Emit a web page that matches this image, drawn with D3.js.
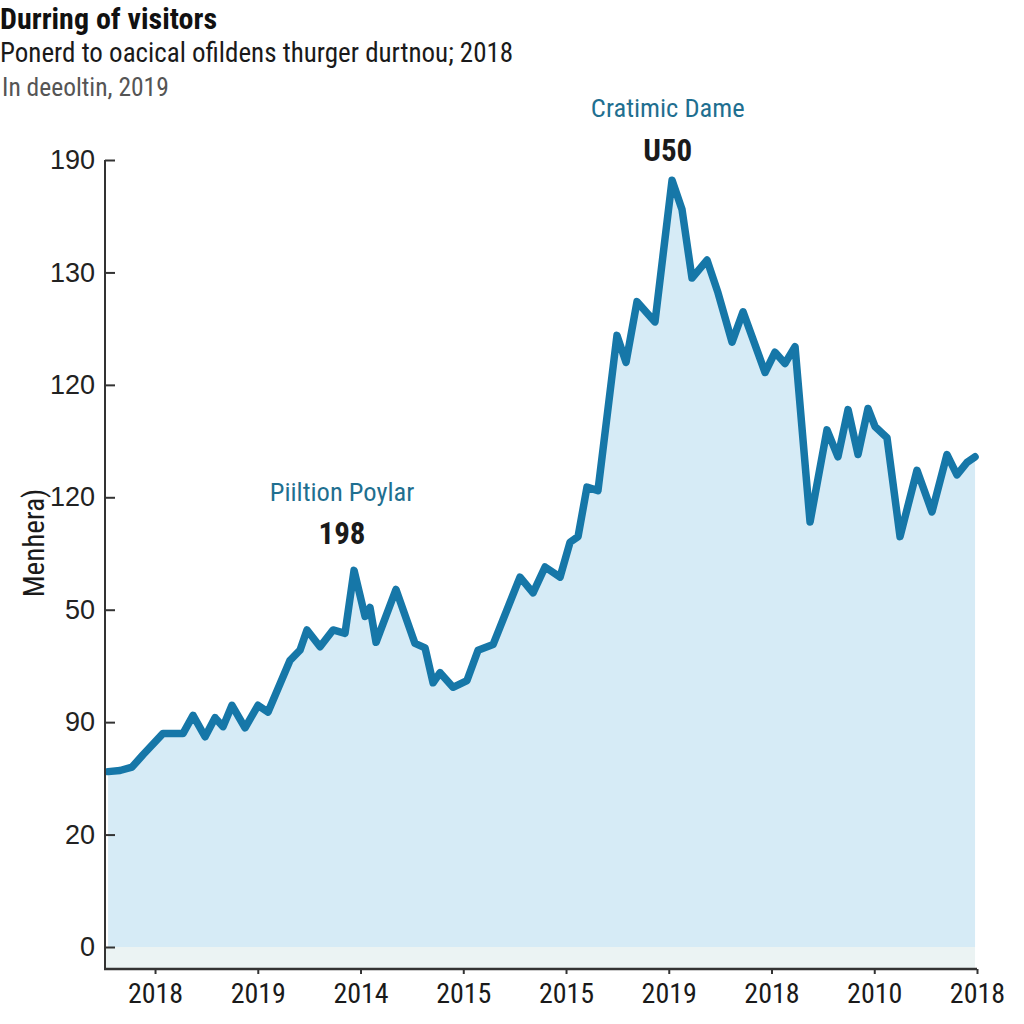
<!DOCTYPE html>
<html>
<head>
<meta charset="utf-8">
<script src="https://cdn.jsdelivr.net/npm/d3@7/dist/d3.min.js"></script>
<style>
  html, body { margin: 0; padding: 0; background: #ffffff; }
  svg { display: block; }
</style>
</head>
<body>
<svg id="chart" width="1024" height="1024"></svg>
<script>
// ---- data ----
const titleText = "Durring of visitors";
const subtitleText = "Ponerd to oacical ofildens thurger durtnou; 2018";
const noteText = "In deeoltin, 2019";
const yAxisTitle = "Menhera)";

const xTickLabels = ["2018", "2019", "2014", "2015", "2015", "2019", "2018", "2010", "2018"];
const xTickPositions = [0, 1, 2, 3, 4, 5, 6, 7, 8];

const yTickLabels = ["0", "20", "90", "50", "120", "120", "130", "190"];
const yTickValues = [0, 10, 20, 30, 40, 50, 60, 70];

// position of each point along the time axis (in tick units)
const xPos = [
  -0.457, -0.341, -0.224, -0.117, 0.078, 0.273, 0.370, 0.487, 0.584, 0.662,
  0.749, 0.876, 1.002, 1.100, 1.314, 1.411, 1.479, 1.606, 1.732, 1.849,
  1.937, 2.044, 2.092, 2.151, 2.345, 2.530, 2.628, 2.706, 2.774, 2.900,
  3.036, 3.144, 3.290, 3.552, 3.679, 3.796, 3.942, 4.039, 4.117, 4.204,
  4.311, 4.496, 4.584, 4.691, 4.866, 5.032, 5.129, 5.226, 5.372, 5.479,
  5.616, 5.723, 5.937, 6.034, 6.131, 6.229, 6.375, 6.540, 6.647, 6.745,
  6.842, 6.939, 7.007, 7.124, 7.251, 7.416, 7.562, 7.708, 7.805, 7.903,
  7.981
];
const values = [
  15.6, 15.7, 16.0, 17.1, 19.0, 19.0, 20.6, 18.7, 20.4, 19.6,
  21.5, 19.5, 21.5, 20.9, 25.5, 26.4, 28.2, 26.7, 28.2, 27.9,
  33.5, 29.4, 30.2, 27.1, 31.8, 27.0, 26.6, 23.5, 24.4, 23.1,
  23.7, 26.4, 26.9, 32.9, 31.5, 33.8, 32.9, 36.0, 36.5, 40.9,
  40.6, 54.4, 52.0, 57.4, 55.6, 68.2, 65.6, 59.5, 61.1, 58.2,
  53.8, 56.5, 51.1, 52.9, 51.9, 53.4, 37.8, 46.0, 43.6, 47.8,
  43.8, 47.9, 46.3, 45.3, 36.5, 42.4, 38.7, 43.8, 42.0, 43.1,
  43.6
];

const annotations = [
  { label: "Piiltion Poylar", value: "198", x: 1.82 },
  { label: "Cratimic Dame", value: "U50", x: 4.99 }
];

// ---- layout ----
const svg = d3.select("#chart");
const plotLeft = 105, plotRight = 977, plotTop = 160, baseY = 947, axisY = 969;

const x = d3.scaleLinear().domain([-0.487, 8]).range([plotLeft, plotRight]);
const y = d3.scaleLinear().domain([0, 70]).range([baseY, plotTop]);

const points = xPos.map((d, i) => ({ x: d, v: values[i] }));

const condensed = "'Roboto Condensed', 'Liberation Sans Narrow', 'Arial Narrow', Roboto, sans-serif";
const regular = "'Liberation Sans', Arial, 'DejaVu Sans', sans-serif";

// band under the baseline
svg.append("rect")
  .attr("x", x(xPos[0]) - 3)
  .attr("y", baseY)
  .attr("width", x(xPos[xPos.length - 1]) - x(xPos[0]) + 3)
  .attr("height", axisY - baseY)
  .attr("fill", "#ebf3f3");

// area
const area = d3.area()
  .x(d => x(d.x))
  .y0(y(0))
  .y1(d => y(d.v));

svg.append("path")
  .datum(points)
  .attr("d", area)
  .attr("fill", "#d6ebf6");

// line
const line = d3.line()
  .x(d => x(d.x))
  .y(d => y(d.v));

svg.append("path")
  .datum(points)
  .attr("d", line)
  .attr("fill", "none")
  .attr("stroke", "#1677a8")
  .attr("stroke-width", 7.5)
  .attr("stroke-linejoin", "round")
  .attr("stroke-linecap", "round");

// y axis
const yAxis = d3.axisLeft(y)
  .tickValues(yTickValues)
  .tickFormat((d, i) => yTickLabels[i])
  .tickSizeInner(-10)
  .tickSizeOuter(0)
  .tickPadding(10);

const gy = svg.append("g")
  .attr("transform", `translate(${plotLeft},0)`)
  .call(yAxis);
gy.select(".domain").remove();
gy.selectAll(".tick line").attr("stroke", "#333").attr("stroke-width", 2);
gy.selectAll(".tick text")
  .attr("fill", "#222")
  .style("font-family", regular)
  .style("font-size", "27px");

svg.append("line")
  .attr("x1", plotLeft).attr("x2", plotLeft)
  .attr("y1", plotTop).attr("y2", axisY + 1)
  .attr("stroke", "#333").attr("stroke-width", 2);

// x axis
const xAxis = d3.axisBottom(x)
  .tickValues(xTickPositions)
  .tickFormat((d, i) => xTickLabels[i])
  .tickSizeInner(5)
  .tickSizeOuter(0)
  .tickPadding(9);

const gx = svg.append("g")
  .attr("transform", `translate(0,${axisY})`)
  .call(xAxis);
gx.select(".domain").remove();
gx.selectAll(".tick line").attr("stroke", "#333").attr("stroke-width", 2);
gx.selectAll(".tick text")
  .attr("fill", "#1a1a1a")
  .style("font-family", condensed)
  .style("font-size", "28px");

svg.append("line")
  .attr("x1", plotLeft - 1).attr("x2", plotRight)
  .attr("y1", axisY).attr("y2", axisY)
  .attr("stroke", "#333").attr("stroke-width", 2.5);

// y axis title
svg.append("text")
  .attr("transform", "translate(44,543) rotate(-90)")
  .attr("text-anchor", "middle")
  .attr("fill", "#1a1a1a")
  .style("font-family", condensed)
  .style("font-size", "29px")
  .text(yAxisTitle);

// annotations
const annY = [[494, 536], [110, 153]];
annotations.forEach((a, i) => {
  svg.append("text")
    .attr("x", x(a.x)).attr("y", annY[i][0])
    .attr("text-anchor", "middle")
    .attr("dominant-baseline", "middle")
    .attr("fill", "#1f6f90")
    .style("font-family", condensed)
    .style("font-size", "26.5px")
    .text(a.label);
  svg.append("text")
    .attr("x", x(a.x)).attr("y", annY[i][1])
    .attr("text-anchor", "middle")
    .attr("dominant-baseline", "middle")
    .attr("fill", "#1a1a1a")
    .style("font-family", condensed)
    .style("font-weight", "bold")
    .style("font-size", "31px")
    .text(a.value);
});

// titles
svg.append("text")
  .attr("x", 0).attr("y", 29)
  .attr("fill", "#111")
  .style("font-family", condensed)
  .style("font-weight", "bold")
  .style("font-size", "30px")
  .text(titleText);

svg.append("text")
  .attr("x", 0).attr("y", 62)
  .attr("fill", "#1a1a1a")
  .style("font-family", condensed)
  .style("font-size", "27px")
  .text(subtitleText);

svg.append("text")
  .attr("x", 2).attr("y", 96)
  .attr("fill", "#555")
  .style("font-family", condensed)
  .style("font-size", "25.5px")
  .text(noteText);
</script>
</body>
</html>
